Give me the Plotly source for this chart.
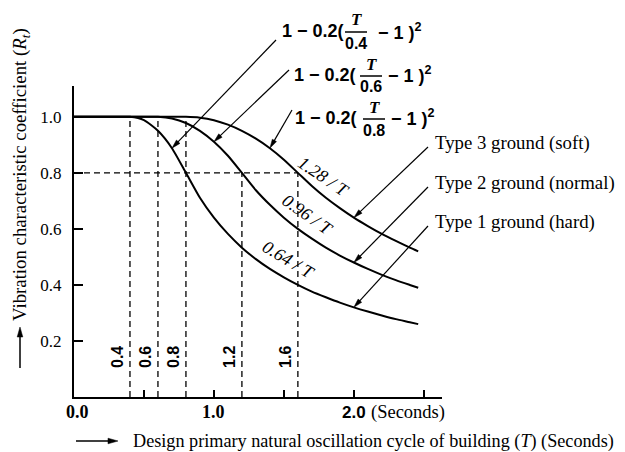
import math

import plotly.graph_objects as go

# natural period T (s) sampled along the three curves
PERIOD = [0.0, 0.1, 0.2, 0.3, 0.4, 0.5, 0.6, 0.7, 0.8, 0.9, 1.0, 1.1, 1.2,
          1.3, 1.4, 1.5, 1.6, 1.7, 1.8, 1.9, 2.0, 2.1, 2.2, 2.3, 2.4, 2.46]
# Rt (type 1 hard, type 2 normal, type 3 soft)
RT_TYPE1 = [1.0, 1.0, 1.0, 1.0, 1.0, 0.988, 0.95, 0.888, 0.8, 0.711, 0.64,
            0.582, 0.533, 0.492, 0.457, 0.427, 0.4, 0.376, 0.356, 0.337,
            0.32, 0.305, 0.291, 0.278, 0.267, 0.26]
RT_TYPE2 = [1.0, 1.0, 1.0, 1.0, 1.0, 1.0, 1.0, 0.994, 0.978, 0.95, 0.911,
            0.861, 0.8, 0.738, 0.686, 0.64, 0.6, 0.565, 0.533, 0.505, 0.48,
            0.457, 0.436, 0.417, 0.4, 0.39]
RT_TYPE3 = [1.0, 1.0, 1.0, 1.0, 1.0, 1.0, 1.0, 1.0, 1.0, 0.997, 0.988,
            0.972, 0.95, 0.922, 0.888, 0.847, 0.8, 0.753, 0.711, 0.674, 0.64,
            0.61, 0.582, 0.557, 0.533, 0.52]

# dashed guide lines: corner periods and the Rt they reach
GUIDE_T = [0.4, 0.6, 0.8, 1.2, 1.6]
GUIDE_RT = [1.0, 1.0, 1.0, 0.8, 0.8]
GUIDE_LABELS = ["0.4", "0.6", "0.8", "1.2", "1.6"]
REF_RT = 0.8

Y_TICKS = [0.2, 0.4, 0.6, 0.8, 1.0]
Y_TICK_LABELS = ["0.2", "0.4", "0.6", "0.8", "1.0"]
X_TICKS = [0.5, 1.0, 1.5, 2.0, 2.5]
X_LABEL_VALUES = [0.0, 1.0, 2.0]
X_LABELS = ["0.0", "1.0", "2.0"]

TC_VALUES = ["0.4", "0.6", "0.8"]
HYPERBOLA_LABELS = ["1.28 / T", "0.96 / T", "0.64 / T"]
GROUND_LABELS = ["Type 3 ground (soft)", "Type 2 ground (normal)",
                 "Type 1 ground (hard)"]

X_RANGE = [0, 2.63]
Y_RANGE = [0, 1.11]

# the page body has an 8px margin, so work in window pixels and shift
OFF = 8
FIG_W, FIG_H = 625 - OFF, 452 - OFF
L, R, TOP, BOT = 74, 442, 86, 397
W, H = R - L, BOT - TOP


def px_x(p):
    return (p - L) / W


def px_y(p):
    return (BOT - p) / H


def data_px(x, y):
    return (L + (x - X_RANGE[0]) / (X_RANGE[1] - X_RANGE[0]) * W,
            BOT - (y - Y_RANGE[0]) / (Y_RANGE[1] - Y_RANGE[0]) * H)


SANS = "Liberation Sans"
SERIF = "Liberation Serif"


def label(x, y, text, family, size, xanchor="center", angle=0, xref="paper",
          yref="paper", xshift=0):
    return dict(x=x, y=y, xref=xref, yref=yref, text=text, showarrow=False,
                xanchor=xanchor, yanchor="middle", textangle=angle, xshift=xshift,
                font=dict(family=family, size=size, color="black"))


def arrow_shapes(tail, head, width=1.2, length=9, half=2.4):
    """Leader line plus a filled narrow arrowhead, both in window pixels."""
    tx, ty = tail
    hx, hy = head
    d = math.hypot(hx - tx, hy - ty)
    ux, uy = (hx - tx) / d, (hy - ty) / d
    bx, by = hx - ux * length, hy - uy * length
    nx, ny = -uy * half, ux * half
    pts = [(hx, hy), (bx + nx, by + ny), (bx - nx, by - ny)]
    path = "M " + " L ".join(f"{px_x(x):.5f},{px_y(y):.5f}" for x, y in pts) + " Z"
    return [
        dict(type="line", xref="paper", yref="paper",
             x0=px_x(tx), y0=px_y(ty), x1=px_x(bx + ux * 2), y1=px_y(by + uy * 2),
             line=dict(color="black", width=width)),
        dict(type="path", xref="paper", yref="paper", path=path,
             fillcolor="black", line=dict(color="black", width=0.5)),
    ]


fig = go.Figure()

for rt in (RT_TYPE1, RT_TYPE2, RT_TYPE3):
    fig.add_trace(go.Scatter(x=PERIOD, y=rt, mode="lines",
                             line=dict(color="black", width=2, shape="spline",
                                       smoothing=0.6),
                             hoverinfo="skip", showlegend=False))

for t, top in zip(GUIDE_T, GUIDE_RT):
    fig.add_trace(go.Scatter(x=[t, t], y=[0, top], mode="lines",
                             line=dict(color="black", width=1.3, dash="6px,4px"),
                             hoverinfo="skip", showlegend=False))
fig.add_trace(go.Scatter(x=[0, GUIDE_T[-1]], y=[REF_RT, REF_RT], mode="lines",
                         line=dict(color="black", width=1.3, dash="6px,4px"),
                         hoverinfo="skip", showlegend=False))

ann = []
shapes = []

# rotated period labels next to the guides
for t, lab in zip(GUIDE_T, GUIDE_LABELS):
    ann.append(label(t - 0.085, 0.143, f"<b>{lab}</b>", SANS, 16, angle=-90,
                     xref="x", yref="y"))

# x tick labels
for v, lab in zip(X_LABEL_VALUES, X_LABELS):
    fam, size = (SANS, 17) if v == 2.0 else (SERIF, 18)
    ann.append(label(v, px_y(412), f"<b>{lab}</b>", fam, size, xref="x",
                     xshift=3 if v == 0.0 else 0))
ann.append(label(px_x(369), px_y(412), "(Seconds)", SERIF, 18.5, xanchor="left"))

# axis titles with arrows
ann.append(label(px_x(21), px_y(175),
                 "Vibration characteristic coefficient (<i>R<sub>t</sub></i>)",
                 SERIF, 18.8, angle=-90))
shapes += arrow_shapes((20, 368), (20, 327), 1.5, 10, 2.8)
ann.append(label(px_x(131), px_y(441),
                 "Design primary natural oscillation cycle of building (<i>T</i>) (Seconds)",
                 SERIF, 18.2, xanchor="left"))
shapes += arrow_shapes((76, 441), (118, 441), 1.5, 10, 2.8)

# parabola formulas: (left of "1", row centre, fraction centre, right part start)
rows = [(280, 31, 356, 376), (292, 75, 371, 386), (293, 118, 374, 389)]
targets = [(PERIOD[7], RT_TYPE1[7]), (PERIOD[10], RT_TYPE2[10]),
           (PERIOD[14], RT_TYPE3[14])]
tails = [(276, 40), (289, 70), (292, 110)]
for (x0, c, fc, rx), tc, (hx, hy), tail in zip(rows, TC_VALUES, targets, tails):
    ann.append(label(px_x(x0), px_y(c), "<b>1 − 0.2(</b>", SANS, 18, xanchor="left"))
    ann.append(label(px_x(fc), px_y(c - 11), "<b><i>T</i></b>", SERIF, 17))
    ann.append(label(px_x(fc), px_y(c + 12), f"<b>{tc}</b>", SANS, 16))
    ann.append(label(px_x(rx), px_y(c), "<b>− 1 )<sup>2</sup></b>", SANS, 18,
                     xanchor="left"))
    shapes.append(dict(type="line", xref="paper", yref="paper",
                       x0=px_x(fc - 11), x1=px_x(fc + 11), y0=px_y(c + 1), y1=px_y(c + 1),
                       line=dict(color="black", width=1.5)))
    shapes += arrow_shapes(tail, data_px(hx, hy))

# hyperbola labels along the curves
for lab, (cx, cy, ang) in zip(HYPERBOLA_LABELS,
                              [(324, 177, 34), (308, 215, 35), (289, 260, 31)]):
    ann.append(label(px_x(cx), px_y(cy), f"<i>{lab}</i>", SERIF, 18, angle=ang))

# ground type labels with leaders to the curves at T = 2.0
i20 = PERIOD.index(2.0)
for lab, rt, cy in zip(GROUND_LABELS, (RT_TYPE3, RT_TYPE2, RT_TYPE1), (143, 183, 222)):
    ann.append(label(px_x(433), px_y(cy), lab, SERIF, 18.8, xanchor="left"))
    shapes += arrow_shapes((428, cy + 4), data_px(PERIOD[i20], rt[i20]))

fig.update_layout(
    width=FIG_W, height=FIG_H,
    margin=dict(l=L - OFF, r=FIG_W + OFF - R, t=TOP - OFF, b=FIG_H + OFF - BOT, pad=0),
    plot_bgcolor="white", paper_bgcolor="white",
    showlegend=False,
    annotations=ann, shapes=shapes,
    xaxis=dict(range=X_RANGE, showgrid=False, zeroline=False,
               showline=True, linecolor="black", linewidth=2,
               tickmode="array", tickvals=X_TICKS, showticklabels=False,
               ticks="inside", ticklen=7, tickwidth=1.5, tickcolor="black"),
    yaxis=dict(range=Y_RANGE, showgrid=False, zeroline=False,
               showline=True, linecolor="black", linewidth=2,
               tickmode="array", tickvals=Y_TICKS, ticktext=Y_TICK_LABELS,
               ticks="inside", ticklen=9, tickwidth=1.5, tickcolor="black",
               ticklabelstandoff=7,
               tickfont=dict(family=SERIF, size=17, color="black")),
)

fig.write_html("out.html")
